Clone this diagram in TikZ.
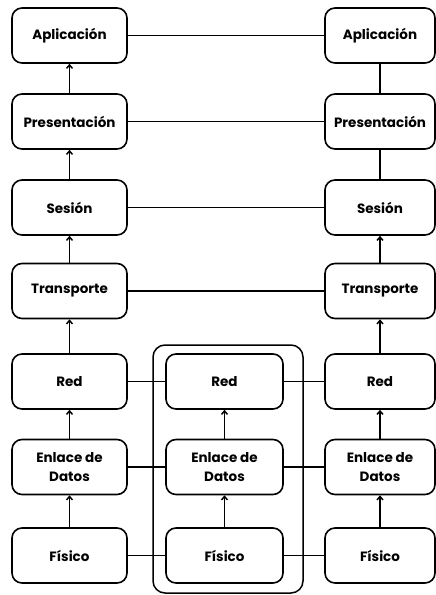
\documentclass[tikz,border=0pt]{standalone}
\usepackage{fontspec}
\setmainfont{Poppins}
\usetikzlibrary{arrows.meta}
\tikzset{
  layer/.style={draw, line width=1.6pt, rounded corners=10pt,
    minimum width=115pt, minimum height=55pt, inner sep=0pt,
    align=center, font=\bfseries\fontsize{13.5}{19}\selectfont},
  narrow/.style={minimum width=110pt},
  wide/.style={minimum width=117pt},
  up/.style={-{Straight Barb[length=3.5pt,width=6pt]}, line width=1.5pt},
  plainv/.style={line width=1.5pt},
  link/.style={line width=1.4pt},
  router/.style={draw, line width=1.5pt, rounded corners=12pt},
}
\begin{document}
\begin{tikzpicture}[x=1pt,y=-1pt]
\useasboundingbox (0,0) rectangle (436,595);

% intermediate node frame
\draw[router] (153,345) rectangle (303,593);

% left host stack
\node[layer] (la) at (69.5,35.5)  {Aplicación};
\node[layer] (lp) at (69.5,121.5) {Presentación};
\node[layer] (ls) at (69.5,207.5) {Sesión};
\node[layer] (lt) at (69.5,291)   {Transporte};
\node[layer] (lr) at (69.5,381.5) {Red};
\node[layer] (le) at (69.5,467)   {Enlace de\\Datos};
\node[layer] (lf) at (69.5,555.5) {Físico};

% intermediate node stack
\node[layer,wide] (mr) at (224.5,381.5) {Red};
\node[layer,wide] (me) at (224.5,467)   {Enlace de\\Datos};
\node[layer,wide] (mf) at (224.5,555.5) {Físico};

% right host stack
\node[layer,narrow] (ra) at (380,35.5)  {Aplicación};
\node[layer,narrow] (rp) at (380,121.5) {Presentación};
\node[layer,narrow] (rs) at (380,207.5) {Sesión};
\node[layer,narrow] (rt) at (380,291)   {Transporte};
\node[layer,narrow] (rr) at (380,381.5) {Red};
\node[layer,narrow] (re) at (380,467)   {Enlace de\\Datos};
\node[layer,narrow] (rf) at (380,555.5) {Físico};

% vertical flow, left
\draw[up] (lf) -- (le);
\draw[up] (le) -- (lr);
\draw[up] (lr) -- (lt);
\draw[up] (lt) -- (ls);
\draw[up] (ls) -- (lp);
\draw[up] (lp) -- (la);

% vertical flow, middle
\draw[up] (mf) -- (me);
\draw[up] (me) -- (mr);

% vertical flow, right
\draw[up] (rf) -- (re);
\draw[up] (re) -- (rr);
\draw[up] (rr) -- (rt);
\draw[up] (rt) -- (rs);
\draw[plainv] (rs) -- (rp);
\draw[plainv] (rp) -- (ra);

% peer links
\draw[link] (la) -- (ra);
\draw[link] (lp) -- (rp);
\draw[link] (ls) -- (rs);
\draw[link] (lt) -- (rt);
\draw[link] (lr) -- (mr);
\draw[link] (mr) -- (rr);
\draw[link] (le) -- (me);
\draw[link] (me) -- (re);
\draw[link] (lf) -- (mf);
\draw[link] (mf) -- (rf);
\end{tikzpicture}
\end{document}
